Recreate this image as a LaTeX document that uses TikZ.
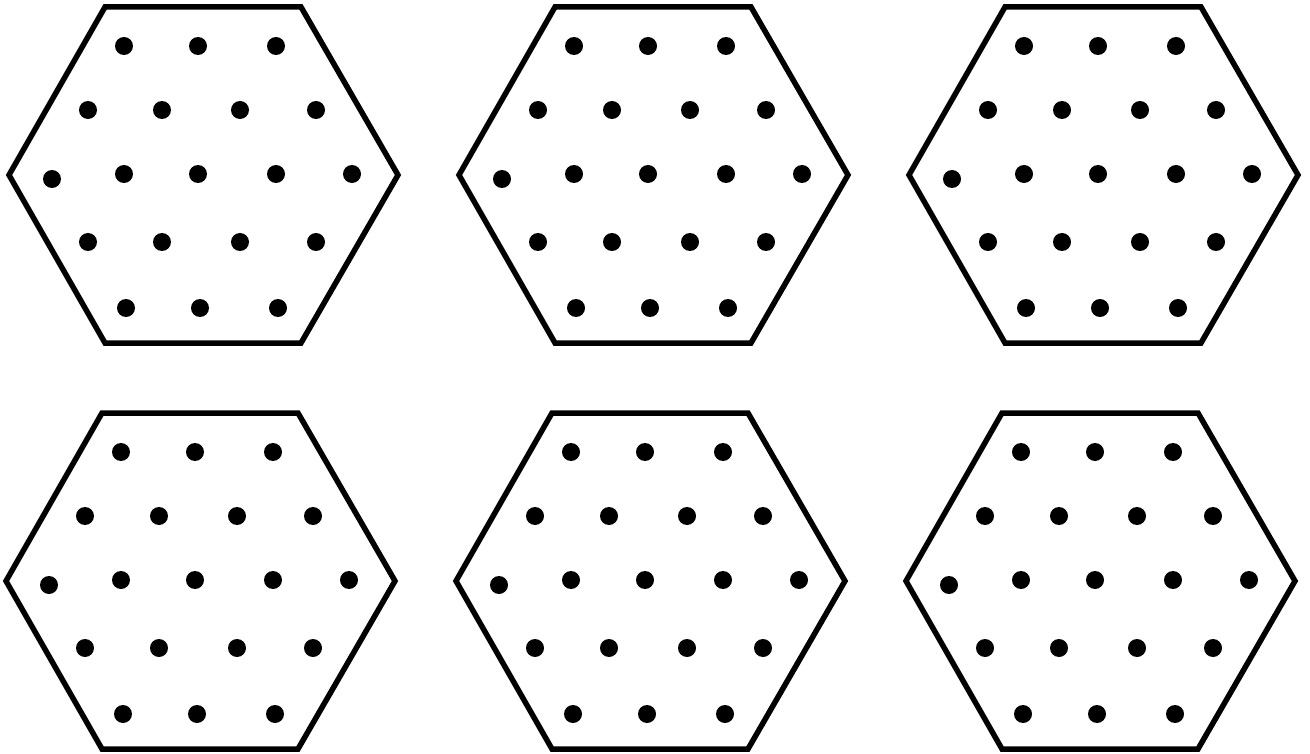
\documentclass[tikz,border=0pt]{standalone}
\begin{document}
\begin{tikzpicture}[x=1pt,y=-1pt,
  hexline/.style={line width=5.5pt,line join=miter,black},
  dot/.style={fill=black},
  hexdots/.pic={
    \draw[hexline] (105,7) -- (301,7) -- (398,175) -- (301,343) -- (105,343) -- (9,175) -- cycle;
    \foreach \px/\py in {124/46,198/46,276/46,
                         88/110,162/110,240/110,316/110,
                         52/179,124/174,198/174,276/174,352/174,
                         88/242,162/242,240/242,316/242,
                         126/308,200/308,278/308}
      \fill[dot] (\px,\py) circle[radius=9pt];
  }]
\useasboundingbox (0,0) rectangle (1310,754);
\fill[white] (0,0) rectangle (1310,754);
\pic at (0,0) {hexdots};
\pic at (450,0) {hexdots};
\pic at (900,0) {hexdots};
\pic at (-3,406) {hexdots};
\pic at (447,406) {hexdots};
\pic at (897,406) {hexdots};
\end{tikzpicture}
\end{document}
